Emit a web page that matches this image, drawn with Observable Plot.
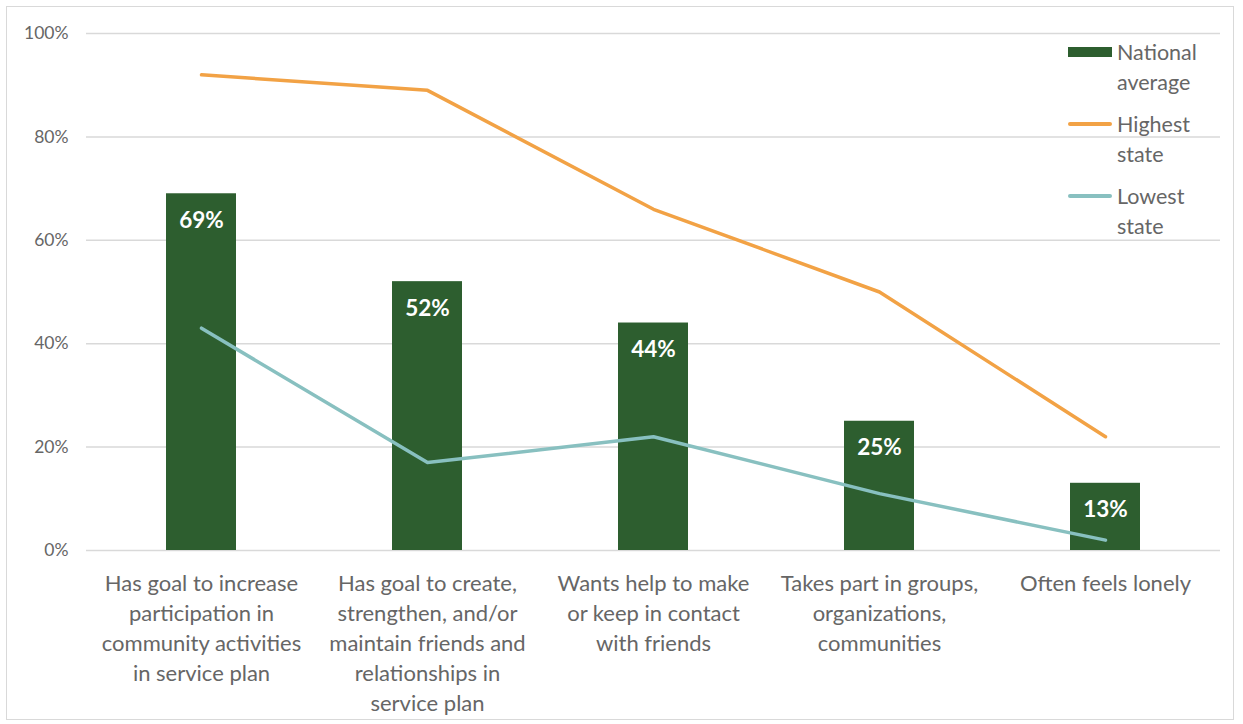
<!DOCTYPE html>
<html>
<head>
<meta charset="utf-8">
<script src="https://cdn.jsdelivr.net/npm/d3@7"></script>
<script src="https://cdn.jsdelivr.net/npm/@observablehq/plot@0.6"></script>
<style>
  html, body { margin: 0; padding: 0; background: #fff; }
  #wrap { position: relative; width: 1243px; height: 724px; font-family: Lato, "Open Sans", sans-serif; }
  #frame { position: absolute; left: 6px; top: 6px; width: 1228px; height: 714px; border: 1.5px solid #d9d9d9; box-sizing: border-box; pointer-events: none; }
  #legend { position: absolute; left: 1068px; top: 37px; color: #666; font-size: 21.5px; line-height: 30px; }
  .item { display: flex; align-items: flex-start; margin-bottom: 12px; }
  .sw { width: 44px; flex: none; display: flex; align-items: center; height: 30px; margin-right: 5px; }
  .sw span { display: block; width: 44px; }
</style>
</head>
<body>
<div id="wrap">
  <div id="chart"></div>
  <div id="frame"></div>
  <div id="legend"></div>
</div>
<script>
const categories = [
  "Has goal to increase\nparticipation in\ncommunity activities\nin service plan",
  "Has goal to create,\nstrengthen, and/or\nmaintain friends and\nrelationships in\nservice plan",
  "Wants help to make\nor keep in contact\nwith friends",
  "Takes part in groups,\norganizations,\ncommunities",
  "Often feels lonely"
];
const nationalAverage = [69, 52, 44, 25, 13];
const highestState = [92, 89, 66, 50, 22];
const lowestState = [43, 17, 22, 11, 2];
const yTicks = [0, 20, 40, 60, 80, 100];
const seriesNames = ["National\naverage", "Highest\nstate", "Lowest\nstate"];
const colors = { bar: "#2d5e2f", high: "#f2a245", low: "#88c0c0" };

const data = categories.map((c, i) => ({
  cat: c, avg: nationalAverage[i], high: highestState[i], low: lowestState[i]
}));

const chart = Plot.plot({
  width: 1243,
  height: 724,
  marginLeft: 86,
  marginRight: 23,
  marginTop: 33,
  marginBottom: 174,
  style: { fontFamily: "Lato, 'Open Sans', sans-serif", color: "#666", background: "transparent" },
  x: { domain: categories, paddingInner: 0.69, paddingOuter: 0.345, align: 0.5 },
  y: { domain: [0, 100] },
  marks: [
    Plot.ruleY(yTicks, { stroke: "#d9d9d9", strokeWidth: 1.5 }),
    Plot.barY(data, { x: "cat", y: "avg", fill: colors.bar }),
    Plot.text(data, { x: "cat", y: "avg", text: d => d.avg + "%", fill: "#fff", fontWeight: "bold", fontSize: 22.5, dy: 27 }),
    Plot.line(data, { x: "cat", y: "high", stroke: colors.high, strokeWidth: 3.5 }),
    Plot.line(data, { x: "cat", y: "low", stroke: colors.low, strokeWidth: 3.5 }),
    Plot.axisY({ ticks: yTicks, tickSize: 0, tickPadding: 18, tickFormat: d => d + "%", fontSize: 17.5, label: null, fill: "#666" }),
    Plot.axisX({ tickSize: 0, tickPadding: 19, fontSize: 22, lineHeight: 30 / 22, label: null, fill: "#666" })
  ]
});
document.getElementById("chart").appendChild(chart);

// Legend
const legend = document.getElementById("legend");
const kinds = [
  { name: seriesNames[0], style: `height:10px;background:${colors.bar}` },
  { name: seriesNames[1], style: `height:4px;background:${colors.high};border-radius:2px` },
  { name: seriesNames[2], style: `height:4px;background:${colors.low};border-radius:2px` }
];
kinds.forEach(k => {
  const item = document.createElement("div");
  item.className = "item";
  item.innerHTML = `<div class="sw"><span style="${k.style}"></span></div><div>${k.name.replace("\n", "<br>")}</div>`;
  legend.appendChild(item);
});
</script>
</body>
</html>
